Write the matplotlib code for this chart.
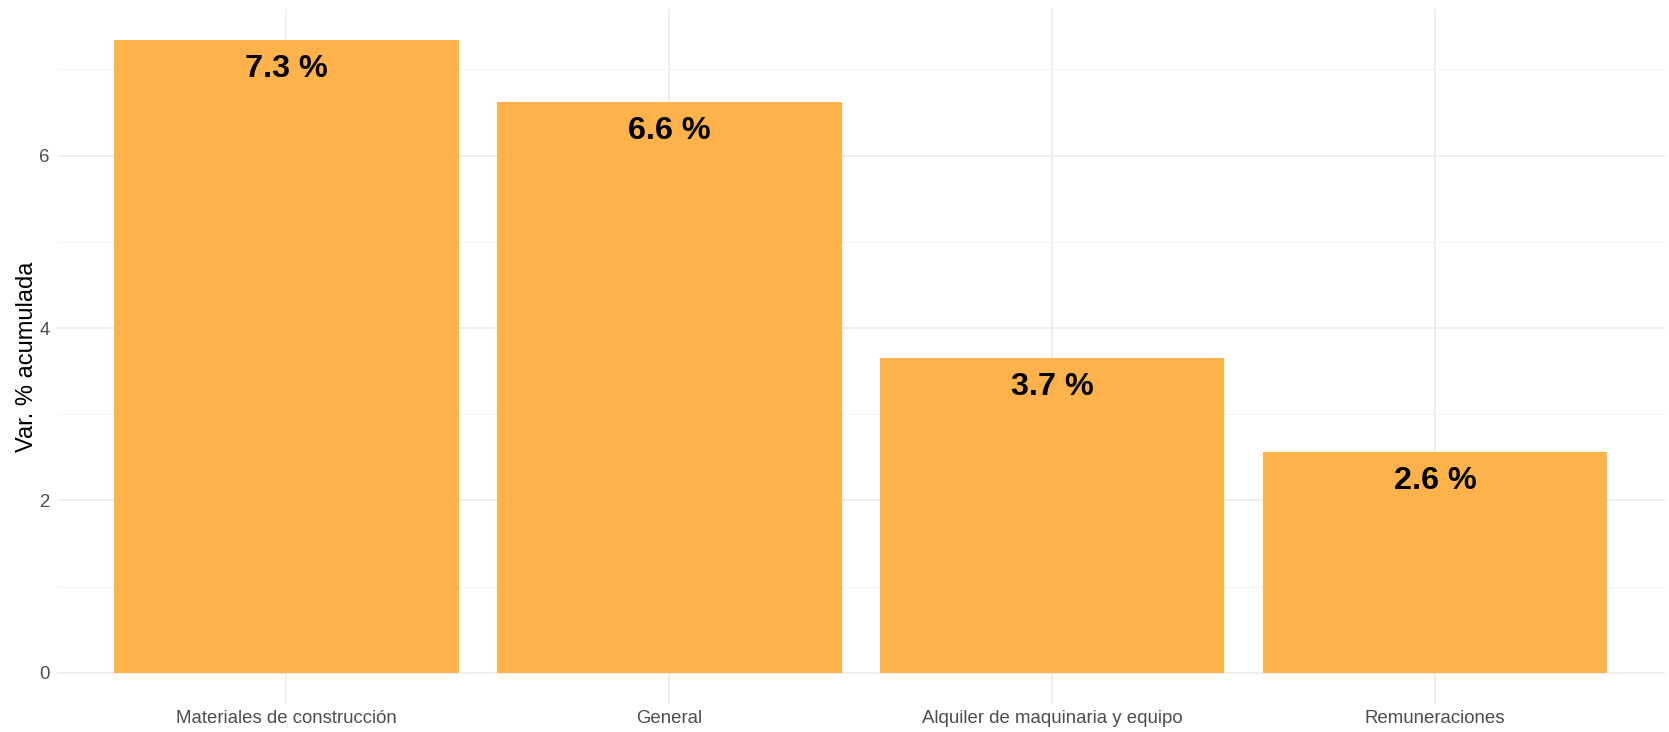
import matplotlib
matplotlib.use("Agg")
import matplotlib.pyplot as plt
from matplotlib.ticker import MultipleLocator

categories = ["Materiales de construcción", "General", "Alquiler de maquinaria y equipo", "Remuneraciones"]
values = [7.34, 6.62, 3.65, 2.56]
labels = ["7.3 %", "6.6 %", "3.7 %", "2.6 %"]
y_ticks = [0, 2, 4, 6]

plt.rcParams['font.family'] = ['Liberation Sans', 'DejaVu Sans']

fig = plt.figure(figsize=(16.69, 7.32), dpi=100)
ax = fig.add_axes([0.034, 0.0378, 0.9634, 0.9505])

x = list(range(1, len(categories) + 1))
ax.bar(x, values, width=0.9, color="#FDB24C", linewidth=0, zorder=2)
for xi, v, lab in zip(x, values, labels):
    ax.annotate(lab, (xi, v), xytext=(0, -21), textcoords="offset points",
                ha="center", va="center", fontsize=23.3, fontweight="bold",
                color="black", zorder=3)

ymax = max(values)
ax.set_xlim(0.4, len(categories) + 0.6)
ax.set_ylim(-0.05 * ymax, 1.05 * ymax)
ax.set_xticks(x)
ax.set_xticklabels(categories)
ax.set_yticks(y_ticks)
ax.yaxis.set_minor_locator(MultipleLocator(1))

ax.grid(True, which="major", color="#EBEBEB", linewidth=1.2, zorder=0)
ax.grid(True, which="minor", axis="y", color="#F4F4F4", linewidth=0.8, zorder=0)
ax.set_axisbelow(True)
for s in ax.spines.values():
    s.set_visible(False)
ax.tick_params(axis="both", which="both", length=0, labelsize=13.4, labelcolor="#4D4D4D")
ax.tick_params(axis="x", pad=4)
ax.tick_params(axis="y", pad=5)
ax.set_ylabel("Var. % acumulada", fontsize=17, color="black", labelpad=1)

fig.savefig("out.png", dpi=100)
